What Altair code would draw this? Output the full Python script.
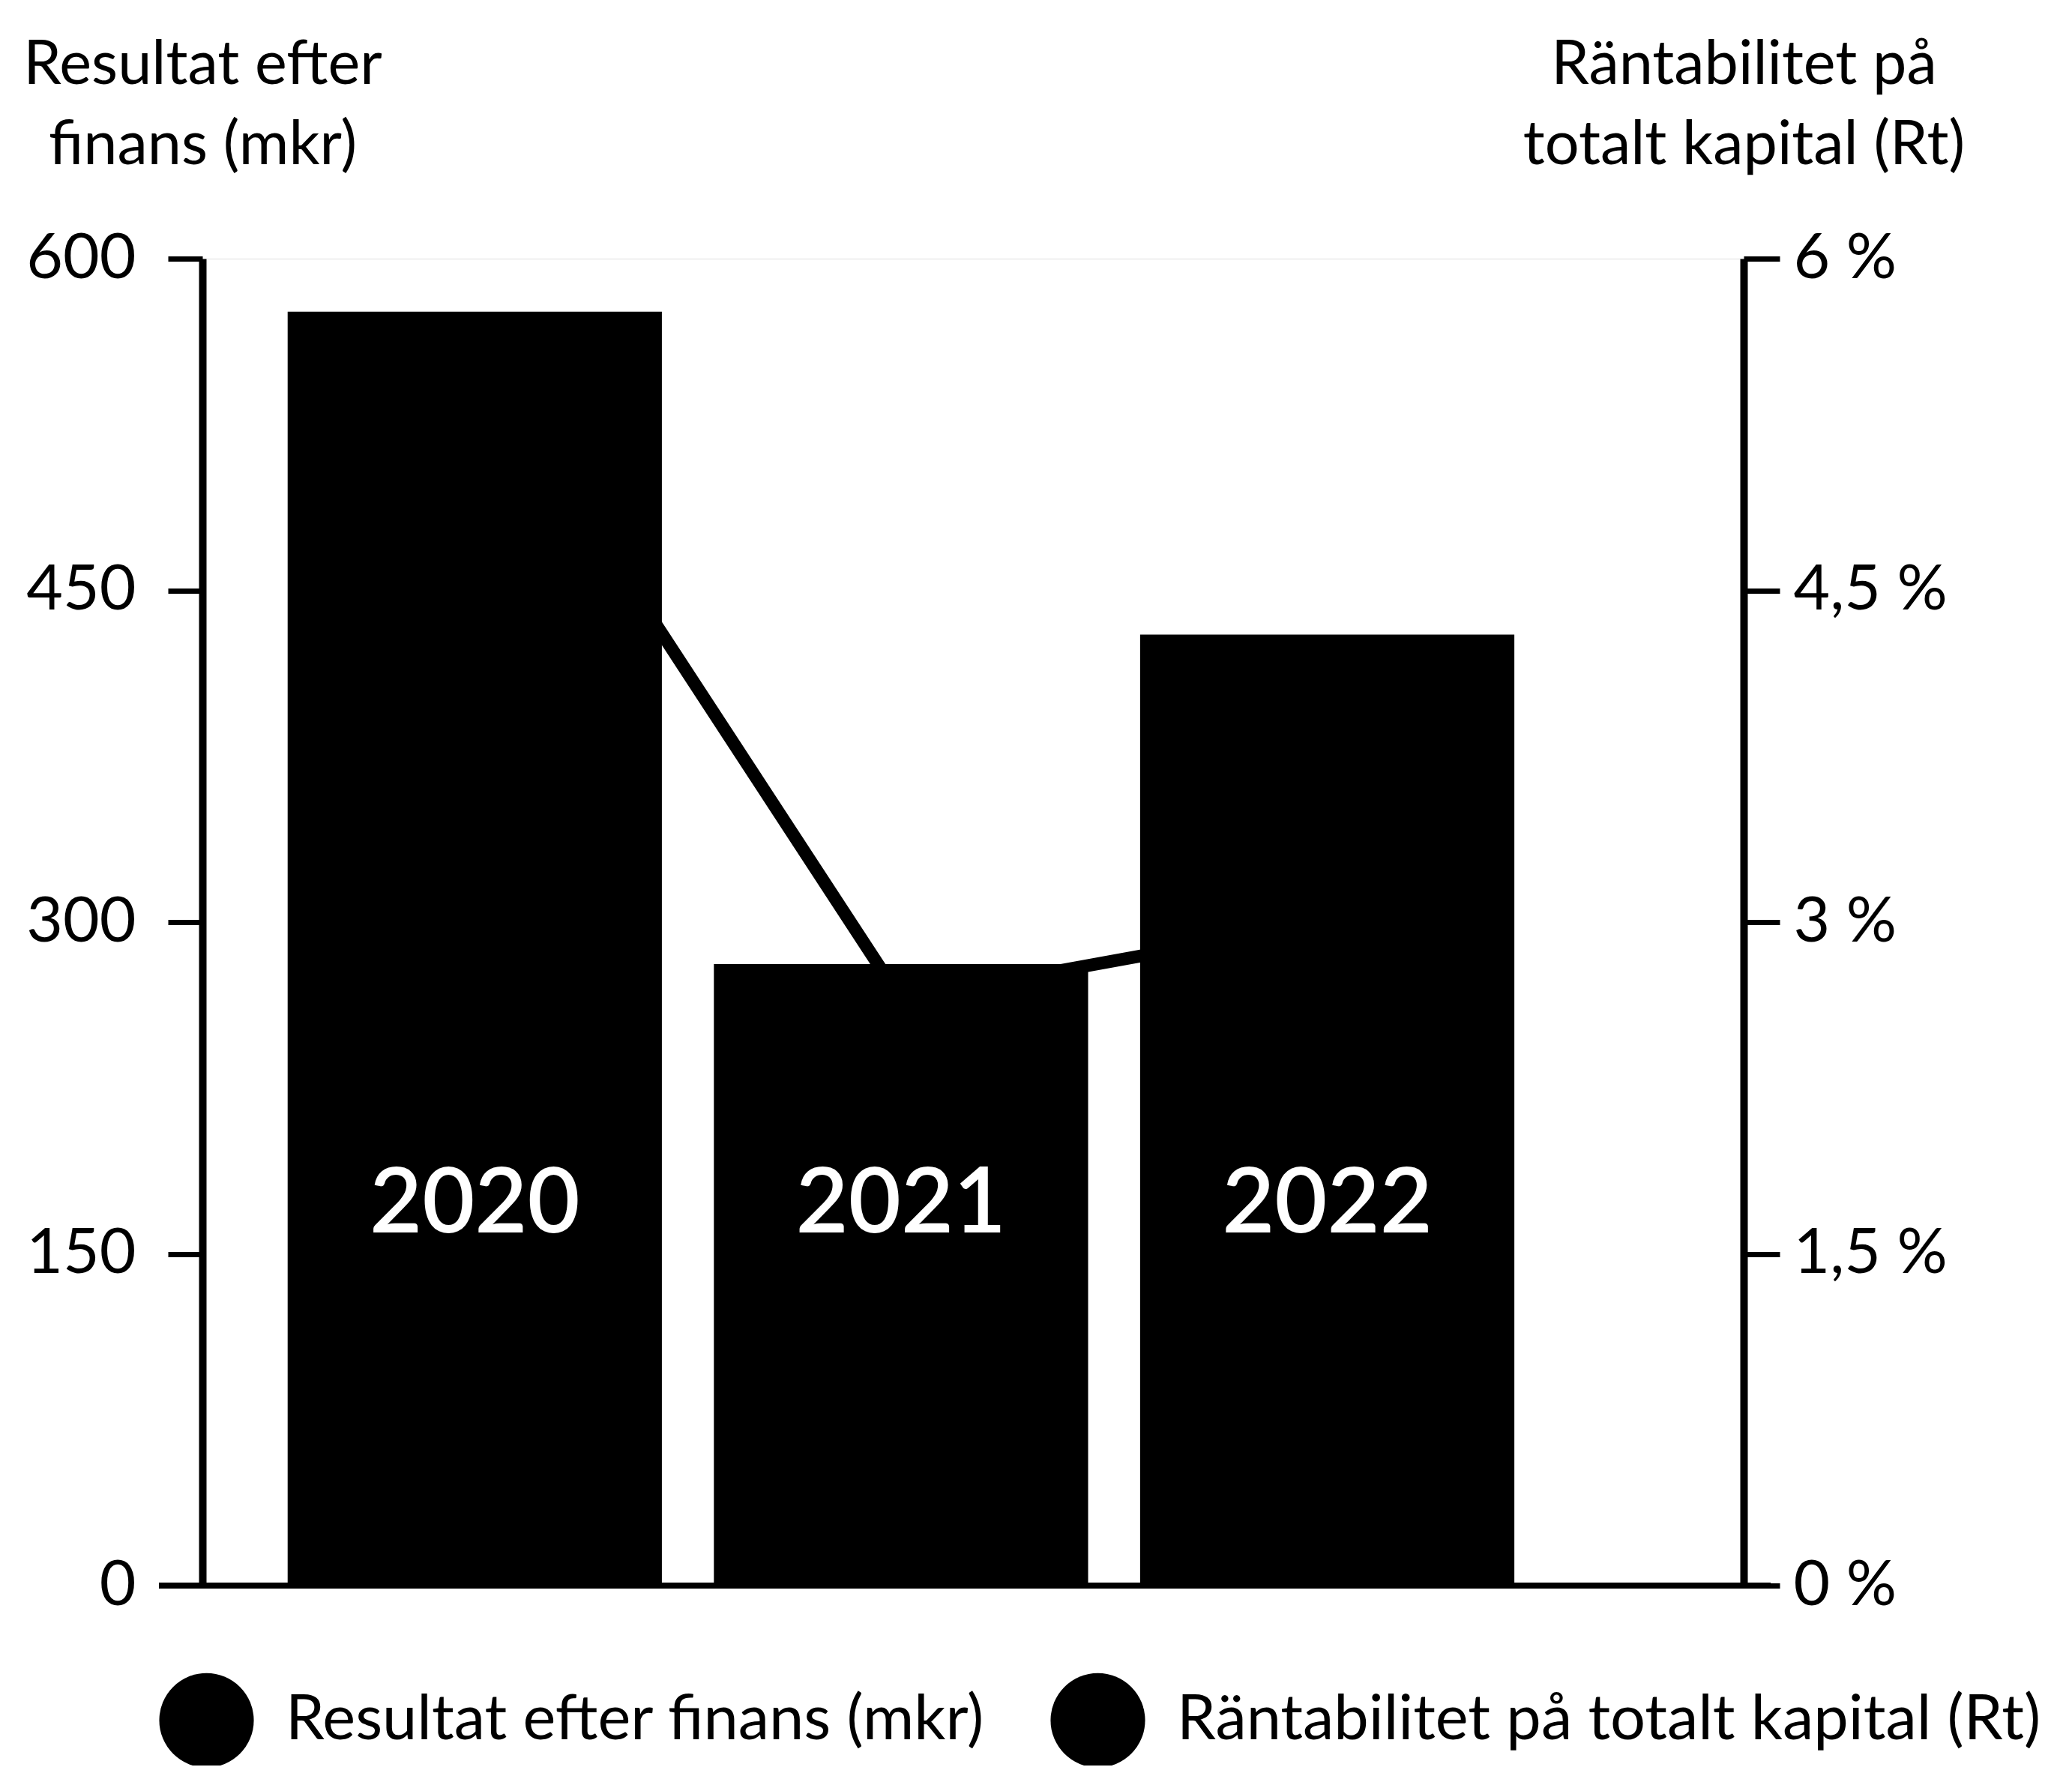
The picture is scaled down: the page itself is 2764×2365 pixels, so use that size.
import altair as alt
import pandas as pd

years = ["2020", "2021", "2022"]
resultat = [576, 281, 430]          # Resultat efter finans (mkr)
rt = [5.6, 2.65, 3.0]               # Räntabilitet på totalt kapital (%)
series = ["Resultat efter finans (mkr)", "Räntabilitet på totalt kapital (Rt)"]
left_ticks = [0, 150, 300, 450, 600]
right_ticks = [0, 1.5, 3, 4.5, 6]

df = pd.DataFrame({
    "year": years,
    "resultat": resultat,
    "rt": rt,
    "s_bar": [series[0]] * len(years),
    "s_line": [series[1]] * len(years),
})

FONT = "Lato"
W, H = 2056, 1770
PAD_L, PAD_T = 262, 337

xscale = alt.Scale(paddingInner=0.122, paddingOuter=0.369, align=0.271)
color_scale = alt.Scale(domain=series, range=["black", "black"])
legend = alt.Legend(
    title=None, orient="none", legendX=-58, legendY=1886, direction="horizontal",
    symbolType="circle", symbolSize=15900, symbolFillColor="black",
    symbolStrokeColor="black", symbolStrokeWidth=0, symbolOpacity=1,
    labelFont=FONT, labelFontSize=83, labelColor="black", labelOffset=42,
    columnPadding=87, padding=0, labelLimit=3000,
)

base = alt.Chart(df)

line = base.mark_line(strokeWidth=17, color="black").encode(
    x=alt.X("year:N", scale=xscale, axis=None),
    y=alt.Y("rt:Q", scale=alt.Scale(domain=[0, 6], nice=False),
            axis=alt.Axis(
                orient="right", values=right_ticks, grid=False,
                labelExpr="replace(format(datum.value, '.1~f'), '.', ',') + ' %'",
                domainColor="black", domainWidth=10, tickColor="black", tickWidth=7,
                tickSize=48, labelFont=FONT, labelFontSize=84, labelColor="black",
                labelPadding=18, labelLimit=3000,
                title=["Räntabilitet på", "totalt kapital (Rt)"], titleAngle=0,
                titleAlign="center", titleBaseline="alphabetic", titleX=0, titleY=-234,
                titleFont=FONT, titleFontSize=81, titleFontWeight="normal",
                titleColor="black", titleLineHeight=107, titleLimit=3000,
            )),
    color=alt.Color("s_line:N", scale=color_scale, legend=legend),
)

bars = base.mark_bar(color="black").encode(
    x=alt.X("year:N", scale=xscale, axis=None),
    y=alt.Y("resultat:Q", scale=alt.Scale(domain=[0, 600], nice=False),
            axis=alt.Axis(
                orient="left", values=left_ticks, grid=False,
                domainColor="black", domainWidth=10, tickColor="black", tickWidth=7,
                tickSize=46, labelFont=FONT, labelFontSize=84, labelColor="black",
                labelPadding=43, labelLimit=3000,
                title=["Resultat efter", "finans (mkr)"], titleAngle=0,
                titleAlign="center", titleBaseline="alphabetic", titleX=0, titleY=-234,
                titleFont=FONT, titleFontSize=81, titleFontWeight="normal",
                titleColor="black", titleLineHeight=107, titleLimit=3000,
            )),
    color=alt.Color("s_bar:N", scale=color_scale, legend=legend),
)

labels = base.mark_text(color="white", fontSize=121, fontWeight=600, font=FONT,
                        baseline="middle").encode(
    x=alt.X("year:N", scale=xscale, axis=None),
    y=alt.datum(172),
    text="year:N",
)

baseline = base.mark_rule(color="black", strokeWidth=8).encode(
    x=alt.value(-58), x2=alt.value(W + 36), y=alt.datum(0)
)

left_layer = alt.layer(bars, labels, baseline)

chart = alt.layer(line, left_layer).resolve_scale(y="independent").properties(
    width=W, height=H,
    autosize=alt.AutoSizeParams(type="none"),
    padding={"left": PAD_L, "top": PAD_T, "right": 420, "bottom": 240},
).configure_view(stroke=None).configure(background="white")

chart.save("out.html", embed_options={"renderer": "svg", "actions": False})
